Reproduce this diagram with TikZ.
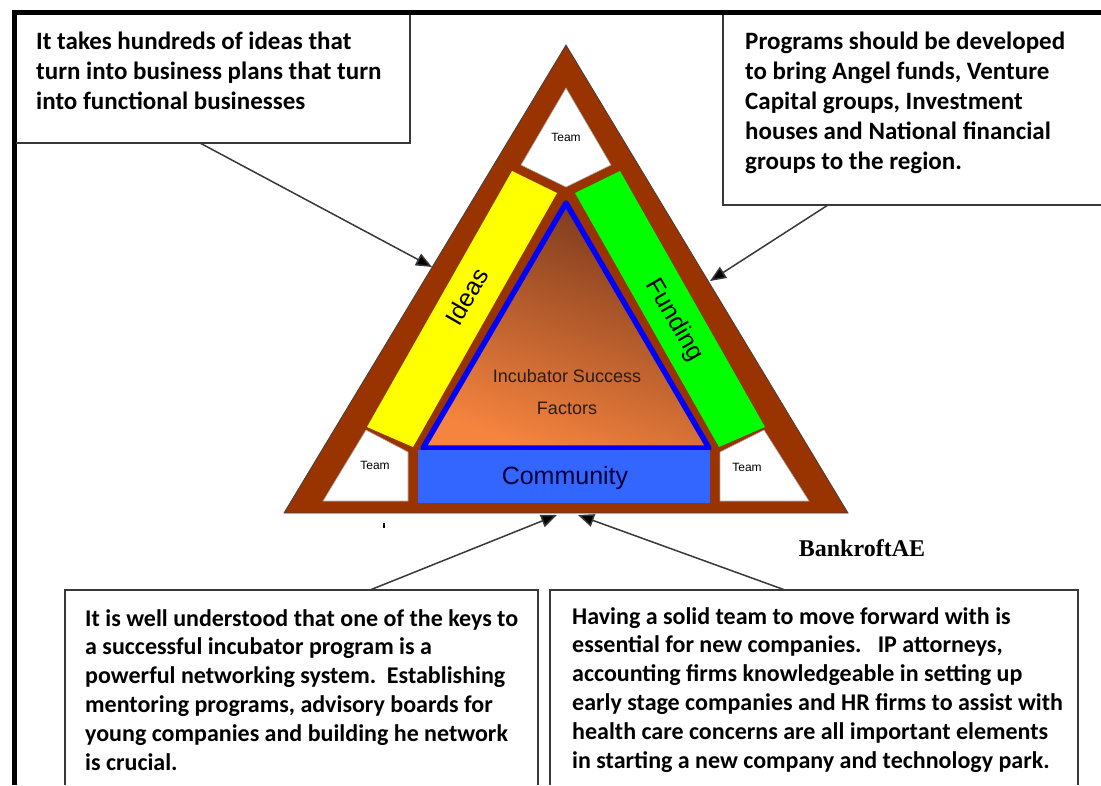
\documentclass[tikz,border=0pt]{standalone}
\usepackage{fontspec}
\usepackage{tikz}
\usetikzlibrary{arrows.meta}
\newfontfamily\notefont{Carlito}
\newfontfamily\shapefont{Liberation Sans}
\newfontfamily\signfont{Liberation Serif}
\definecolor{framec}{HTML}{993300}
\definecolor{ideac}{HTML}{FFFF00}
\definecolor{fundc}{HTML}{00FF00}
\definecolor{commc}{HTML}{3366FF}
\definecolor{edgec}{HTML}{0000FF}
\definecolor{coreA}{HTML}{7A381C}
\definecolor{coreB}{HTML}{F5843F}
\definecolor{coretxt}{HTML}{2E1C12}
\definecolor{linec}{HTML}{383838}
\tikzset{
  ar/.style={-{Triangle[length=16pt,width=13pt,fill=black]},line width=1.5pt,linec},
  note/.style={align=left,inner sep=0pt,anchor=north west,font=\notefont\bfseries\fontsize{25}{30}\selectfont},
  lowernote/.style={note,font=\notefont\bfseries\fontsize{24}{28.8}\selectfont},
  frame/.style={draw=linec,line width=1.3pt},
  teampart/.style={fill=white,draw=black!35,line width=0.6pt},
  teamtxt/.style={font=\shapefont\fontsize{12}{14}\selectfont},
  lbl/.style={font=\shapefont\fontsize{25}{28}\selectfont}
}

\begin{document}
\begin{tikzpicture}[x=1pt,y=-1pt]
\useasboundingbox (0,0) rectangle (1101,785);
% page rule and note frames
\draw[line width=5pt] (14,785) -- (14,12.5) -- (1101,12.5);
\draw[frame] (16,143) -- (410,143) -- (410,15);
\draw[frame] (723,15) -- (723,205) -- (1101,205);
\draw[frame] (65,785) -- (65,590) -- (538,590) -- (538,785);
\draw[frame] (550,785) -- (550,590) -- (1078,590) -- (1078,785);

\node[note] (ideasnote) at (36,32) {It takes hundreds of ideas that\\turn into business plans that turn\\into functional businesses};
\node[note] (fundnote) at (745,32) {Programs should be developed\\to bring Angel funds, Venture\\Capital groups, Investment\\houses and National financial\\groups to the region.};
\node[lowernote] (commnote) at (85,609) {It is well understood that one of the keys to\\a successful incubator program is a\\powerful networking system.\ \ Establishing\\mentoring programs, advisory boards for\\young companies and building he network\\is crucial.};
\node[lowernote] (teamnote) at (572,607) {Having a solid team to move forward with is\\essential for new companies.\ \ \ IP attorneys,\\accounting firms knowledgeable in setting up\\early stage companies and HR firms to assist with\\health care concerns are all important elements\\in starting a new company and technology park.};

% triangle
\coordinate (apex) at (566,45);
\coordinate (lbase) at (284,513);
\coordinate (rbase) at (848,513);
\filldraw[fill=framec,draw=black!75,line width=0.8pt] (apex) -- (lbase) -- (rbase) -- cycle;
\filldraw[teampart] (566,88) -- (521,165) -- (566,187) -- (611,165) -- cycle;
\filldraw[teampart] (366,430) -- (408,452) -- (408,501) -- (323,501) -- cycle;
\filldraw[teampart] (764,430) -- (720,452) -- (720,501) -- (809,501) -- cycle;
\fill[ideac] (512,171) -- (557,193) -- (413,447) -- (367,427) -- cycle;
\fill[fundc] (620,171) -- (575,193) -- (719,447) -- (765,427) -- cycle;
\shade[top color=coreA,bottom color=coreB,shading angle=-20] (566,203) -- (423,448) -- (709,448) -- cycle;
\draw[edgec,line width=5.5pt,line join=round] (566,203) -- (423,448) -- (709,448) -- cycle;
\fill[commc] (418,450) rectangle (710,503);

\node[lbl,rotate=60] (ideaslbl) at (467,297) {Ideas};
\node[lbl,rotate=-60] (fundlbl) at (674,320) {Funding};
\node[lbl,text=black!80!blue] (commlbl) at (565,478) {Community};
\node[align=center,text=coretxt,font=\shapefont\fontsize{18}{32}\selectfont] (corelbl) at (567,392) {Incubator Success\\Factors};
\foreach \tx/\ty/\nm in {566/137/top,375/465/left,747/467/right}
  \node[teamtxt] (team\nm) at (\tx,\ty) {Team};

\node[font=\signfont\bfseries\fontsize{24}{28}\selectfont] (sign) at (862,548) {BankroftAE};
\fill (383,523) rectangle (385,528);

% arrows
\coordinate (ideasfrom) at (200,143);
\coordinate (ideasto) at (432,267);
\coordinate (fundfrom) at (828,205);
\coordinate (fundto) at (710,281);
\coordinate (commfrom) at (370,590);
\coordinate (commto) at (557,515);
\coordinate (teamfrom) at (785,590);
\coordinate (teamto) at (578,515);
\draw[ar] (ideasfrom) -- (ideasto);
\draw[ar] (fundfrom) -- (fundto);
\draw[ar] (commfrom) -- (commto);
\draw[ar] (teamfrom) -- (teamto);
\end{tikzpicture}
\end{document}
